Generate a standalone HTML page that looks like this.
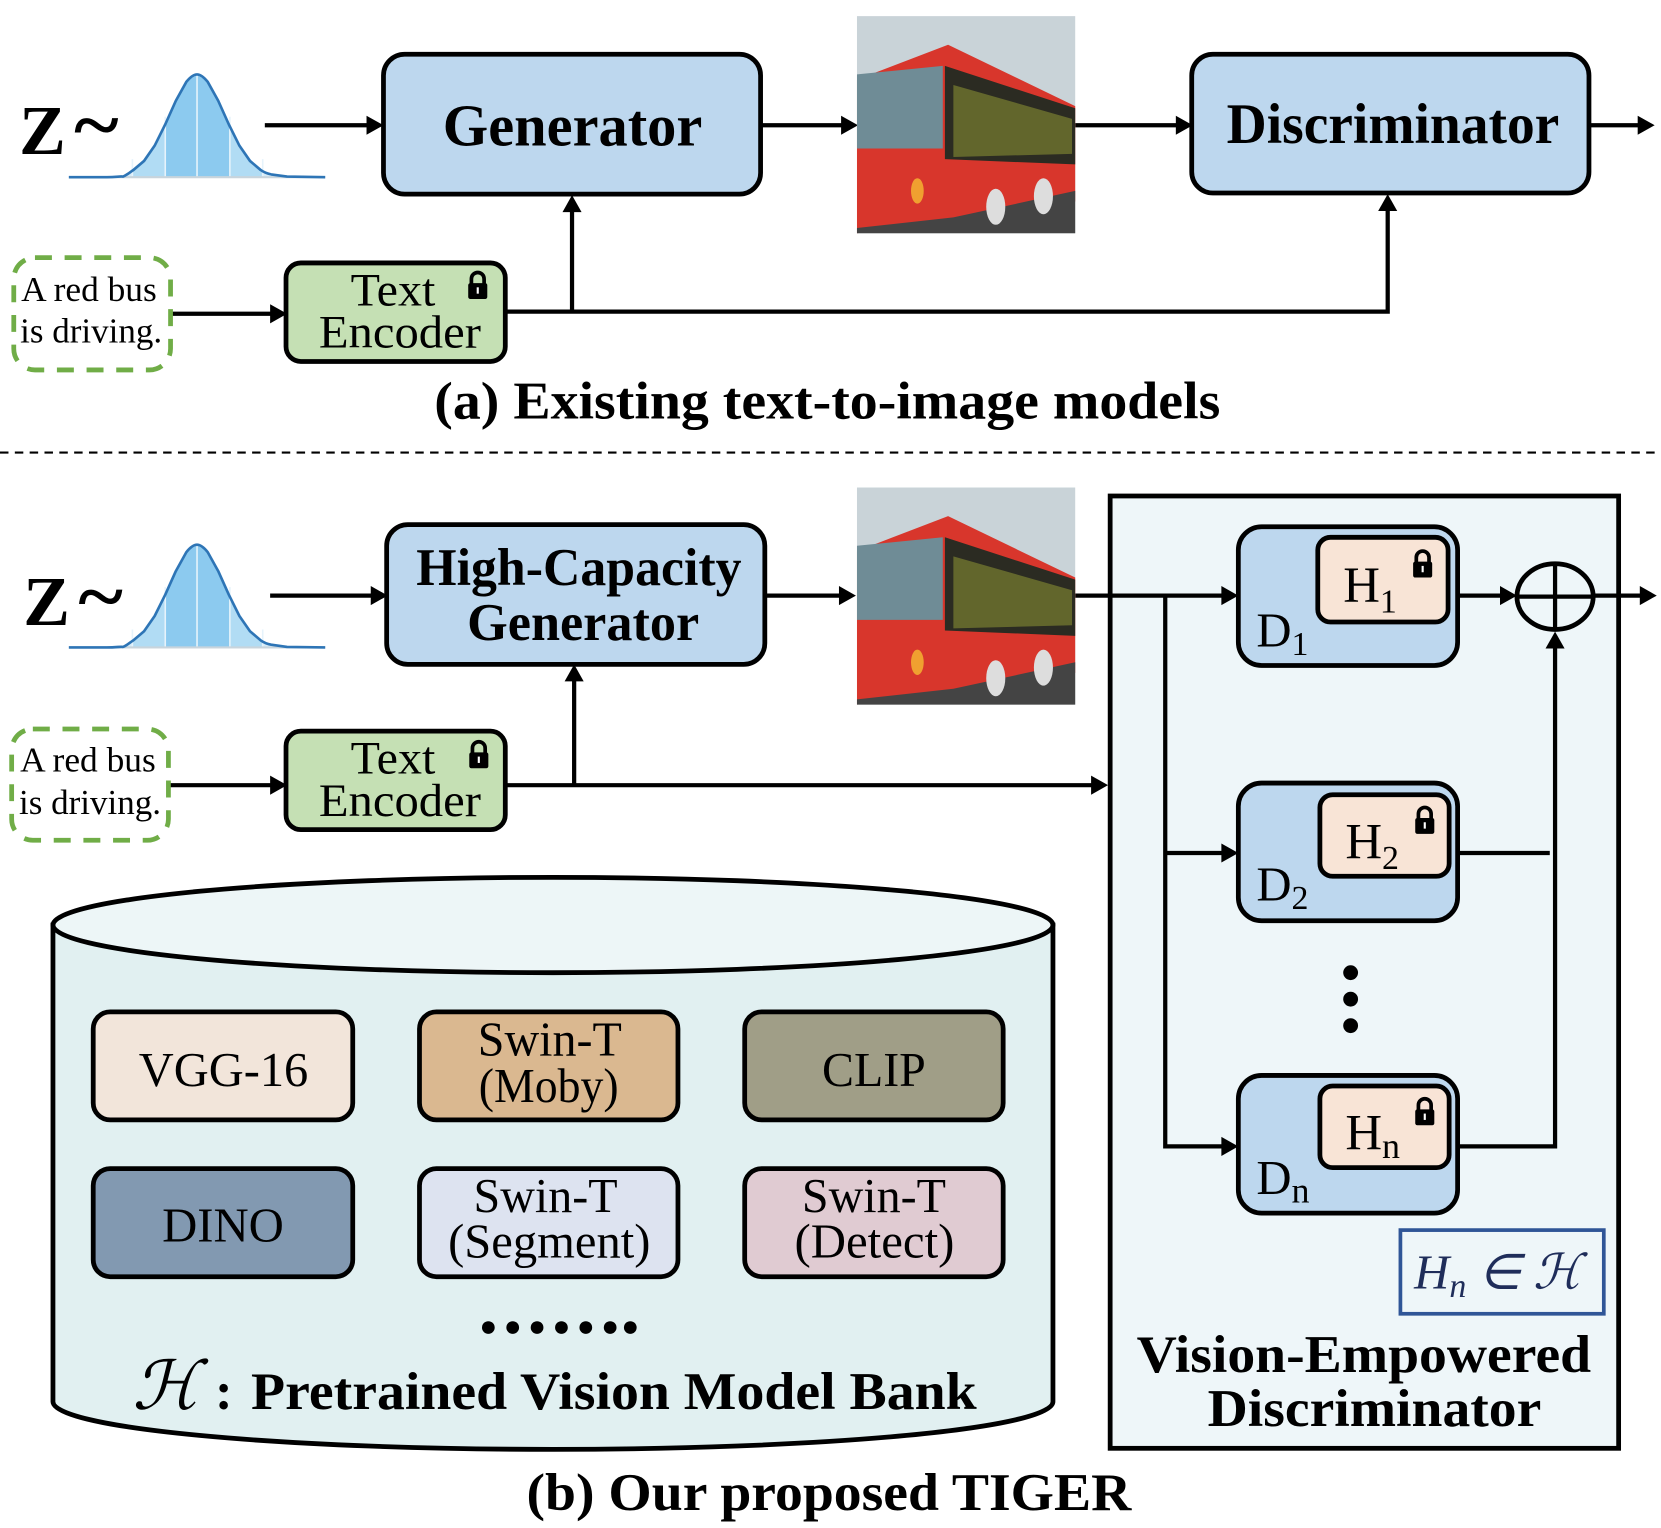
<!DOCTYPE html>
<html><head><meta charset="utf-8"><style>
html,body{margin:0;padding:0;background:#fff}
svg{display:block}
text{font-family:"Liberation Serif",serif}
</style></head><body>
<svg width="1661" height="1528" viewBox="0 0 1568 1442" xmlns="http://www.w3.org/2000/svg">
<defs>
<g id="lock"><path d="M-6,0 v-5 a6,6 0 0 1 12,0 v5" fill="none" stroke="#000" stroke-width="3.5"/><rect x="-9" y="-1" width="18" height="15" rx="2" fill="#000"/><rect x="-1" y="3" width="2" height="6" fill="#fff"/></g>
<g id="bell">
<clipPath id="bc"><path d="M65,167 L101,167 L116,166.5 L126,160.2 L136,151.7 L146,137.3 L156,117.2 L166,94.9 L176,76.9 L186,70 L196,76.9 L206,94.9 L216,117.2 L226,137.3 L236,151.7 L246,160.2 L256,164.4 L271,166.5 L307,167 Z"/></clipPath>
<g clip-path="url(#bc)">
<rect x="60" y="60" width="250" height="110" fill="#d4ebf8"/>
<rect x="125" y="60" width="123" height="110" fill="#b1dcf4"/>
<rect x="156" y="60" width="61" height="110" fill="#8ccaef"/>
</g>
<g stroke="#e6f3fb" stroke-width="1.5"><line x1="186" y1="70" x2="186" y2="167"/><line x1="156" y1="110" x2="156" y2="167"/><line x1="217" y1="110" x2="217" y2="167"/><line x1="125" y1="150" x2="125" y2="167"/><line x1="248" y1="150" x2="248" y2="167"/></g>
<line x1="65" y1="167" x2="307" y2="167" stroke="#c8d4dc" stroke-width="2"/>
<path d="M65,167 L101,167 C110,167 114,166 116,166.5 C120,165 123,162 126,160.2 L136,151.7 L146,137.3 L156,117.2 L166,94.9 L176,76.9 C180,72 183,70 186,70 C189,70 192,72 196,76.9 L206,94.9 L216,117.2 L226,137.3 L236,151.7 L246,160.2 C250,163 254,164 256,164.4 L271,166.5 L307,167" fill="none" stroke="#2e75b6" stroke-width="2.5" stroke-linejoin="round"/>
</g>
<g id="bus">
<rect x="809" y="15" width="206" height="205" fill="#c9d3d8"/>
<polygon points="809,75 895,42 1015,100 1015,190 809,220" fill="#d8362c"/>
<polygon points="809,70 890,62 890,140 809,140" fill="#6f8c96"/>
<polygon points="892,62 1015,102 1015,155 892,150" fill="#2b2b22"/>
<polygon points="900,80 1012,112 1012,145 900,148" fill="#7a8030" opacity="0.7"/>
<polygon points="809,215 900,205 1015,180 1015,220 809,220" fill="#444"/>
<ellipse cx="940" cy="195" rx="9" ry="17" fill="#ddd"/>
<ellipse cx="985" cy="185" rx="9" ry="17" fill="#ddd"/>
<ellipse cx="866" cy="180" rx="6" ry="12" fill="#f0a030"/>
</g>
</defs>

<!-- ===== (a) ===== -->
<use href="#bell"/>
<text x="18" y="145" font-size="66" font-weight="bold" textLength="44" lengthAdjust="spacingAndGlyphs">Z</text>
<text x="70" y="142" font-size="72" font-weight="bold" textLength="42" lengthAdjust="spacingAndGlyphs">~</text>

<g stroke="#000" stroke-width="4" fill="none">
<line x1="250" y1="118" x2="348" y2="118"/>
<line x1="718" y1="118" x2="797" y2="118"/>
<line x1="1015" y1="118" x2="1113" y2="118"/>
<line x1="1500" y1="118" x2="1548" y2="118"/>
<line x1="161" y1="296" x2="258" y2="296"/>
<polyline points="477,294 1310,294 1310,196"/>
<line x1="540" y1="294" x2="540" y2="197"/>
</g>
<g fill="#000">
<polygon points="362,118 346,109 346,127"/>
<polygon points="810,118 794,109 794,127"/>
<polygon points="1126,118 1110,109 1110,127"/>
<polygon points="1562,118 1546,109 1546,127"/>
<polygon points="271,296 255,287 255,305"/>
<polygon points="540,184 531,200 549,200"/>
<polygon points="1310,183 1301,199 1319,199"/>
</g>

<rect x="362" y="51" width="356" height="132" rx="20" fill="#bdd7ee" stroke="#000" stroke-width="4.5"/>
<text x="418" y="137" font-size="56" font-weight="bold" textLength="245" lengthAdjust="spacingAndGlyphs">Generator</text>
<rect x="1125" y="51" width="375" height="131" rx="20" fill="#bdd7ee" stroke="#000" stroke-width="4.5"/>
<text x="1158" y="135" font-size="54" font-weight="bold" textLength="314" lengthAdjust="spacingAndGlyphs">Discriminator</text>

<use href="#bus"/>

<rect x="13" y="243" width="148" height="106" rx="20" fill="none" stroke="#70ad47" stroke-width="4.5" stroke-dasharray="16,12"/>
<text x="20" y="284" font-size="33" textLength="128" lengthAdjust="spacingAndGlyphs">A red bus</text>
<text x="19" y="323" font-size="33" textLength="134" lengthAdjust="spacingAndGlyphs">is driving.</text>
<rect x="270" y="248" width="207" height="93" rx="14" fill="#c5e0b4" stroke="#000" stroke-width="4.5"/>
<text x="331" y="288" font-size="44" textLength="80" lengthAdjust="spacingAndGlyphs">Text</text>
<text x="301" y="328" font-size="44" textLength="153" lengthAdjust="spacingAndGlyphs">Encoder</text>
<use href="#lock" x="451" y="268"/>

<text x="410" y="395" font-size="50" font-weight="bold" textLength="742" lengthAdjust="spacingAndGlyphs">(a) Existing text-to-image models</text>
<line x1="0" y1="427" x2="1568" y2="427" stroke="#000" stroke-width="2" stroke-dasharray="8,6"/>

<!-- ===== (b) ===== -->
<use href="#bell" transform="translate(0,444)"/>
<text x="22" y="590" font-size="66" font-weight="bold" textLength="44" lengthAdjust="spacingAndGlyphs">Z</text>
<text x="74" y="587" font-size="72" font-weight="bold" textLength="42" lengthAdjust="spacingAndGlyphs">~</text>

<rect x="1048" y="468" width="480" height="899" fill="#eef6f9" stroke="#000" stroke-width="4.5"/>

<g stroke="#000" stroke-width="4" fill="none">
<line x1="255" y1="562" x2="352" y2="562"/>
<line x1="722" y1="562" x2="795" y2="562"/>
<line x1="1015" y1="562" x2="1155" y2="562"/>
<polyline points="1100,562 1100,1082 1155,1082"/>
<line x1="1100" y1="805" x2="1155" y2="805"/>
<line x1="1376" y1="562" x2="1418" y2="562"/>
<line x1="1505" y1="562" x2="1550" y2="562"/>
<polyline points="1376,1082 1468,1082 1468,610"/>
<line x1="1376" y1="805" x2="1463" y2="805"/>
<line x1="160" y1="741" x2="258" y2="741"/>
<line x1="477" y1="741" x2="1032" y2="741"/>
<line x1="542" y1="741" x2="542" y2="640"/>
</g>
<g fill="#000">
<polygon points="366,562 350,553 350,571"/>
<polygon points="808,562 792,553 792,571"/>
<polygon points="1169,562 1153,553 1153,571"/>
<polygon points="1169,805 1153,796 1153,814"/>
<polygon points="1169,1082 1153,1073 1153,1091"/>
<polygon points="1432,562 1416,553 1416,571"/>
<polygon points="1564,562 1548,553 1548,571"/>
<polygon points="1468,596 1459,612 1477,612"/>
<polygon points="271,741 255,732 255,750"/>
<polygon points="1046,741 1030,732 1030,750"/>
<polygon points="542,627 533,643 551,643"/>
</g>

<rect x="365" y="495" width="357" height="132" rx="20" fill="#bdd7ee" stroke="#000" stroke-width="4.5"/>
<text x="393" y="552" font-size="50" font-weight="bold" textLength="307" lengthAdjust="spacingAndGlyphs">High-Capacity</text>
<text x="441" y="604" font-size="50" font-weight="bold" textLength="219" lengthAdjust="spacingAndGlyphs">Generator</text>

<use href="#bus" transform="translate(0,445)"/>

<rect x="11" y="688" width="148" height="105" rx="20" fill="none" stroke="#70ad47" stroke-width="4.5" stroke-dasharray="16,12"/>
<text x="19" y="728" font-size="33" textLength="128" lengthAdjust="spacingAndGlyphs">A red bus</text>
<text x="18" y="768" font-size="33" textLength="134" lengthAdjust="spacingAndGlyphs">is driving.</text>
<rect x="270" y="690" width="207" height="93" rx="14" fill="#c5e0b4" stroke="#000" stroke-width="4.5"/>
<text x="331" y="730" font-size="44" textLength="80" lengthAdjust="spacingAndGlyphs">Text</text>
<text x="301" y="770" font-size="44" textLength="153" lengthAdjust="spacingAndGlyphs">Encoder</text>
<use href="#lock" x="452" y="711"/>

<g>
<rect x="1169" y="497" width="207" height="131" rx="22" fill="#bdd7ee" stroke="#000" stroke-width="4.5"/>
<rect x="1244" y="507" width="123" height="80" rx="12" fill="#f8e4d6" stroke="#000" stroke-width="4.5"/>
<text x="1268" y="568" font-size="48" font-family="DejaVu Serif, serif">H<tspan font-size="32" dy="10">1</tspan></text>
<use href="#lock" x="1343" y="531"/>
<text x="1186" y="610" font-size="46" font-family="DejaVu Serif, serif">D<tspan font-size="32" dy="8">1</tspan></text>

<rect x="1169" y="739" width="207" height="130" rx="22" fill="#bdd7ee" stroke="#000" stroke-width="4.5"/>
<rect x="1246" y="750" width="122" height="77" rx="12" fill="#f8e4d6" stroke="#000" stroke-width="4.5"/>
<text x="1270" y="810" font-size="48" font-family="DejaVu Serif, serif">H<tspan font-size="32" dy="10">2</tspan></text>
<use href="#lock" x="1345" y="773"/>
<text x="1186" y="850" font-size="46" font-family="DejaVu Serif, serif">D<tspan font-size="32" dy="8">2</tspan></text>

<circle cx="1275" cy="918" r="7"/><circle cx="1275" cy="943" r="7"/><circle cx="1275" cy="968" r="7"/>

<rect x="1169" y="1015" width="207" height="130" rx="22" fill="#bdd7ee" stroke="#000" stroke-width="4.5"/>
<rect x="1246" y="1025" width="122" height="77" rx="12" fill="#f8e4d6" stroke="#000" stroke-width="4.5"/>
<text x="1270" y="1085" font-size="48" font-family="DejaVu Serif, serif">H<tspan font-size="34" dy="8">n</tspan></text>
<use href="#lock" x="1345" y="1048"/>
<text x="1186" y="1127" font-size="46" font-family="DejaVu Serif, serif">D<tspan font-size="34" dy="8">n</tspan></text>
</g>
<ellipse cx="1468" cy="563" rx="36" ry="31" fill="none" stroke="#000" stroke-width="4.5"/>
<line x1="1432" y1="563" x2="1504" y2="563" stroke="#000" stroke-width="4"/>
<line x1="1468" y1="532" x2="1468" y2="594" stroke="#000" stroke-width="4"/>

<rect x="1322" y="1161" width="192" height="79" fill="none" stroke="#2f5597" stroke-width="3.5"/>
<text x="1335" y="1216" font-size="46" font-style="italic" fill="#1f2d5a">H<tspan font-size="32" dy="8">n</tspan><tspan dy="-8"> ∈ ℋ</tspan></text>
<text x="1073" y="1295" font-size="50" font-weight="bold" textLength="429" lengthAdjust="spacingAndGlyphs">Vision-Empowered</text>
<text x="1140" y="1346" font-size="50" font-weight="bold" textLength="315" lengthAdjust="spacingAndGlyphs">Discriminator</text>

<path d="M50,873 L50,1323 A472,45 0 0 0 994,1323 L994,873 Z" fill="#e1f0f1" stroke="#000" stroke-width="4.5"/>
<ellipse cx="522" cy="873" rx="472" ry="45" fill="#edf6f7" stroke="#000" stroke-width="4.5"/>

<g stroke="#000" stroke-width="4.5">
<rect x="88" y="955" width="245" height="102" rx="16" fill="#f2e5da"/>
<rect x="396" y="955" width="244" height="102" rx="16" fill="#dab890"/>
<rect x="703" y="955" width="244" height="102" rx="16" fill="#a09e87"/>
<rect x="88" y="1103" width="245" height="102" rx="16" fill="#8299b1"/>
<rect x="396" y="1103" width="244" height="102" rx="16" fill="#dde3f0"/>
<rect x="703" y="1103" width="244" height="102" rx="16" fill="#e0cbd2"/>
</g>
<g font-size="46">
<text x="131" y="1025" textLength="160" lengthAdjust="spacingAndGlyphs">VGG-16</text>
<text x="451" y="996" textLength="136" lengthAdjust="spacingAndGlyphs">Swin-T</text>
<text x="452" y="1040" textLength="132" lengthAdjust="spacingAndGlyphs">(Moby)</text>
<text x="776" y="1025" textLength="98" lengthAdjust="spacingAndGlyphs">CLIP</text>
<text x="153" y="1172" textLength="115" lengthAdjust="spacingAndGlyphs">DINO</text>
<text x="447" y="1144" textLength="136" lengthAdjust="spacingAndGlyphs">Swin-T</text>
<text x="423" y="1187" textLength="191" lengthAdjust="spacingAndGlyphs">(Segment)</text>
<text x="757" y="1144" textLength="136" lengthAdjust="spacingAndGlyphs">Swin-T</text>
<text x="750" y="1187" textLength="151" lengthAdjust="spacingAndGlyphs">(Detect)</text>
</g>
<g fill="#000">
<circle cx="461" cy="1253" r="6"/><circle cx="484" cy="1253" r="6"/><circle cx="507" cy="1253" r="6"/><circle cx="530" cy="1253" r="6"/><circle cx="553" cy="1253" r="6"/><circle cx="576" cy="1253" r="6"/><circle cx="595" cy="1253" r="6"/>
</g>
<text x="125" y="1330" font-size="64" font-style="italic">ℋ</text>
<text x="203" y="1330" font-size="50" font-weight="bold">:</text>
<text x="237" y="1330" font-size="50" font-weight="bold" textLength="685" lengthAdjust="spacingAndGlyphs">Pretrained Vision Model Bank</text>

<text x="497" y="1425" font-size="50" font-weight="bold" textLength="571" lengthAdjust="spacingAndGlyphs">(b) Our proposed TIGER</text>
</svg>
</body></html>
